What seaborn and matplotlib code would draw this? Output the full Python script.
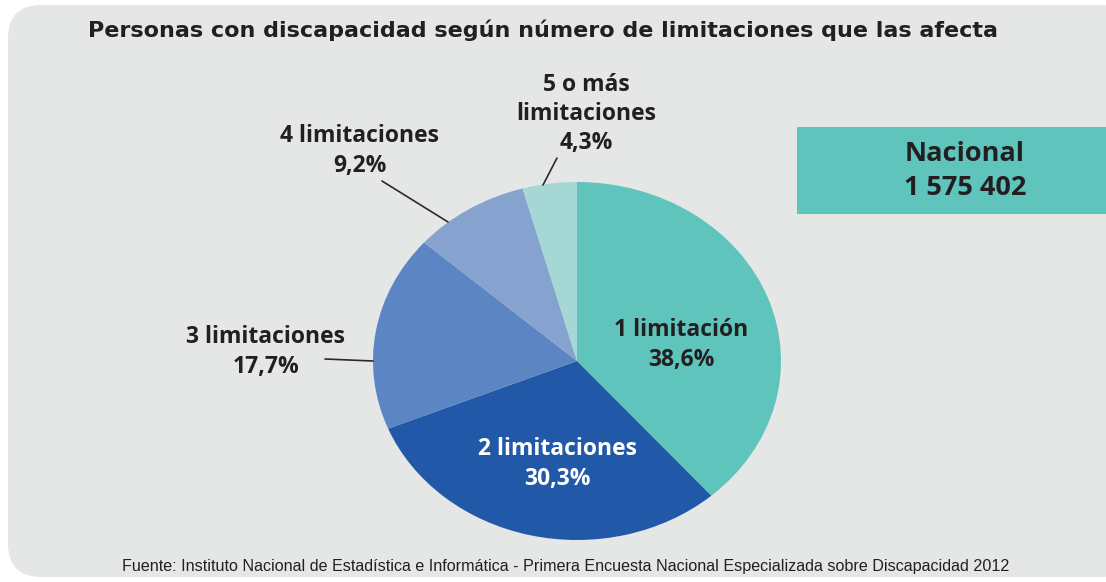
import matplotlib
matplotlib.use("Agg")
import matplotlib.pyplot as plt
from matplotlib.patches import FancyBboxPatch, Rectangle
import seaborn as sns

# ── Datos ────────────────────────────────────────────────────────────────────
categorias = ["1 limitación", "2 limitaciones", "3 limitaciones",
              "4 limitaciones", "5 o más\nlimitaciones"]
porcentajes = [38.6, 30.3, 17.7, 9.2, 4.3]
colores = ["#5fc4bc", "#2158a8", "#5b85c3", "#86a3cf", "#a5d8d4"]
total_nacional = "1 575 402"

titulo = "Personas con discapacidad según número de limitaciones que las afecta"
fuente = ("Fuente: Instituto Nacional de Estadística e Informática - "
          "Primera Encuesta Nacional Especializada sobre Discapacidad 2012")

sns.set_theme(style="white")
plt.rcParams["font.family"] = ["Open Sans", "DejaVu Sans"]

W, H = 1106, 582
fig = plt.figure(figsize=(W / 100, H / 100), dpi=100)
fig.patch.set_facecolor("white")


def px(x, y):
    # pixel (desde arriba-izquierda) -> fracción de figura
    return x / W, 1 - y / H


# fondo gris redondeado
bg = FancyBboxPatch(px(8, 577), (W + 30 - 8) / W, (577 - 5) / H,
                    boxstyle="round,pad=0,rounding_size=0.03",
                    transform=fig.transFigure, facecolor="#e5e6e6",
                    edgecolor="none", zorder=-5, mutation_aspect=W / H)
fig.patches.append(bg)

# ── Pastel ───────────────────────────────────────────────────────────────────
ax = fig.add_axes([373 / W, (H - 540) / H, 408 / W, 358 / H])
ax.set_facecolor("none")
wedges, _ = ax.pie(porcentajes, colors=colores, startangle=90,
                   counterclock=False, radius=1,
                   wedgeprops=dict(linewidth=0))
ax.set_aspect("auto")
ax.set_xlim(-1, 1)
ax.set_ylim(-1, 1)
ax.axis("off")

oscuro = "#231f20"
fs = 16.5

def etiqueta(i, x, y, color=oscuro):
    txt = f"{categorias[i]}\n{porcentajes[i]:.1f}%".replace(".", ",")
    fig.text(*px(x, y), txt, ha="center", va="center", fontsize=fs,
             fontweight="bold", color=color, linespacing=1.3, zorder=5)

etiqueta(0, 681, 345)
etiqueta(1, 557, 464, color="white")
etiqueta(2, 266, 352)
etiqueta(3, 360, 151)
etiqueta(4, 586, 114)

# líneas guía
for (x0, y0), (x1, y1) in [((557, 158), (543, 185)),
                           ((382, 181), (448, 222)),
                           ((325, 359), (373, 361))]:
    fig.add_artist(plt.Line2D([x0 / W, x1 / W], [1 - y0 / H, 1 - y1 / H],
                              transform=fig.transFigure, color="#2a2a2a",
                              lw=1.2))

# caja Nacional
fig.patches.append(Rectangle(px(797, 214), (W - 797) / W, (214 - 127) / H,
                             transform=fig.transFigure, facecolor="#5fc4bc",
                             edgecolor="none", zorder=1))
fig.text(*px(965, 171), f"Nacional\n{total_nacional}", ha="center",
         va="center", fontsize=19.5, fontweight="bold", color=oscuro,
         linespacing=1.4)

# título y fuente
fig.text(*px(543, 30), titulo, ha="center", va="center", fontsize=16,
         fontweight="bold", color=oscuro, family=["DejaVu Sans"])
fig.text(*px(566, 567), fuente, ha="center", va="center", fontsize=11.6,
         color=oscuro, family=["Liberation Sans Narrow", "Liberation Sans"])

fig.savefig("out.png", dpi=100)
